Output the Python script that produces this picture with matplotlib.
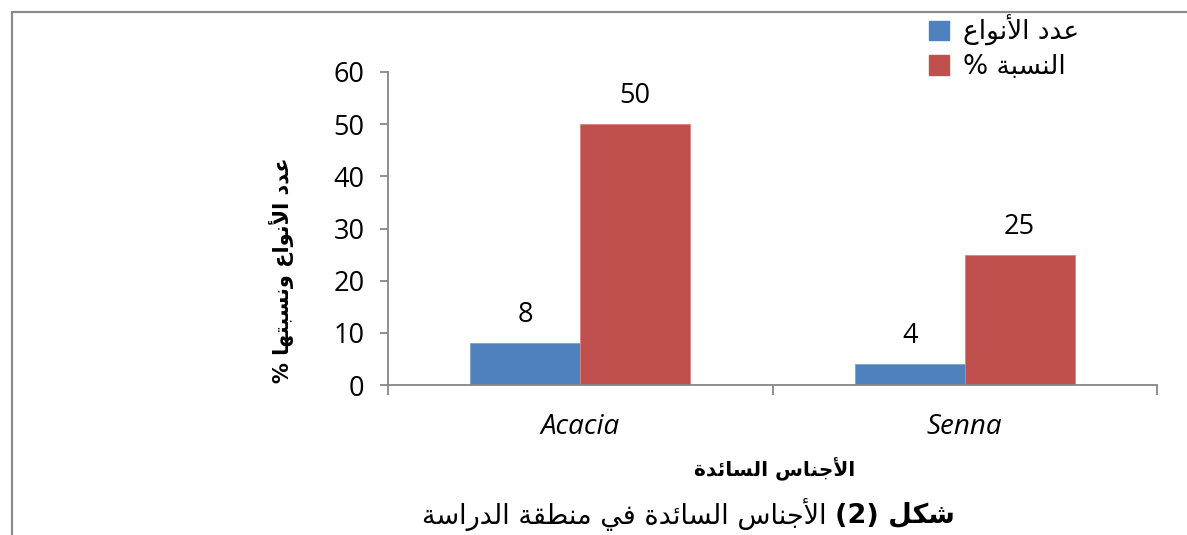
import numpy as np
import matplotlib.pyplot as plt
from matplotlib.lines import Line2D
from matplotlib.patches import Patch

# chart data
genera = ["Acacia", "Senna"]
species_count = [8, 4]
species_pct = [50, 25]

legend_count = "عدد الأنواع"
legend_pct = "النسبة %"
y_title = "عدد الأنواع ونسبتها %"
x_title = "الأجناس السائدة"
caption_bold = "شكل"
caption_num = "(2)"
caption_rest = "الأجناس السائدة في منطقة الدراسة"

# --- minimal Arabic shaping (presentation forms) + visual reordering ---
FORMS = {
    "ا": (0xFE8D, 0xFE8E, None, None),
    "أ": (0xFE83, 0xFE84, None, None),
    "ب": (0xFE8F, 0xFE90, 0xFE91, 0xFE92),
    "ة": (0xFE93, 0xFE94, None, None),
    "ت": (0xFE95, 0xFE96, 0xFE97, 0xFE98),
    "ج": (0xFE9D, 0xFE9E, 0xFE9F, 0xFEA0),
    "د": (0xFEA9, 0xFEAA, None, None),
    "ر": (0xFEAD, 0xFEAE, None, None),
    "س": (0xFEB1, 0xFEB2, 0xFEB3, 0xFEB4),
    "ش": (0xFEB5, 0xFEB6, 0xFEB7, 0xFEB8),
    "ط": (0xFEC1, 0xFEC2, 0xFEC3, 0xFEC4),
    "ع": (0xFEC9, 0xFECA, 0xFECB, 0xFECC),
    "ف": (0xFED1, 0xFED2, 0xFED3, 0xFED4),
    "ق": (0xFED5, 0xFED6, 0xFED7, 0xFED8),
    "ك": (0xFED9, 0xFEDA, 0xFEDB, 0xFEDC),
    "ل": (0xFEDD, 0xFEDE, 0xFEDF, 0xFEE0),
    "م": (0xFEE1, 0xFEE2, 0xFEE3, 0xFEE4),
    "ن": (0xFEE5, 0xFEE6, 0xFEE7, 0xFEE8),
    "ه": (0xFEE9, 0xFEEA, 0xFEEB, 0xFEEC),
    "و": (0xFEED, 0xFEEE, None, None),
    "ي": (0xFEF1, 0xFEF2, 0xFEF3, 0xFEF4),
    "ئ": (0xFE89, 0xFE8A, 0xFE8B, 0xFE8C),
    "لا": (0xFEFB, 0xFEFC, None, None),
    "لأ": (0xFEF7, 0xFEF8, None, None),
}


def ar(text):
    tokens = []
    i = 0
    while i < len(text):
        if text[i] == "ل" and i + 1 < len(text) and text[i + 1] in "اأ":
            tokens.append(text[i:i + 2])
            i += 2
        else:
            tokens.append(text[i])
            i += 1
    out = []
    for k, t in enumerate(tokens):
        if t not in FORMS:
            out.append(t)
            continue
        prev = tokens[k - 1] if k > 0 else None
        nxt = tokens[k + 1] if k + 1 < len(tokens) else None
        join_prev = prev in FORMS and FORMS[prev][2] is not None
        join_next = nxt in FORMS and FORMS[t][2] is not None
        iso, fin, ini, med = FORMS[t]
        if join_prev and join_next:
            out.append(chr(med))
        elif join_prev:
            out.append(chr(fin))
        elif join_next:
            out.append(chr(ini))
        else:
            out.append(chr(iso))
    return "".join(out[::-1])


blue = "#4F81BD"
red = "#C0504D"
axis_grey = "#868686"

fig = plt.figure(figsize=(11.87, 5.35), dpi=100)
ax = fig.add_axes([388 / 1187, 1 - 385 / 535, (1157 - 388) / 1187, (385 - 72) / 535])

x = np.arange(len(genera))
w = 0.2857
b1 = ax.bar(x - w / 2, species_count, w, color=blue, edgecolor="#7FA3D0", linewidth=0.6)
b2 = ax.bar(x + w / 2, species_pct, w, color=red, edgecolor="#D88080", linewidth=0.6)
ax.bar_label(b1, padding=10, fontsize=19.5, family="Open Sans")
ax.bar_label(b2, padding=10, fontsize=19.5, family="Open Sans")

ax.set_xlim(-0.5, len(genera) - 0.5)
ax.set_ylim(0, 60)
ax.set_yticks(np.arange(0, 61, 10))
ax.set_xticks(np.arange(len(genera) + 1) - 0.5)
ax.set_xticklabels([])
ax.set_xticks(x, minor=True)
ax.set_xticklabels(genera, minor=True, fontstyle="italic", fontsize=20, family="Open Sans")
ax.tick_params(axis="x", which="minor", length=0, pad=20)
ax.tick_params(axis="x", which="major", length=7, width=1.3, color=axis_grey)
ax.tick_params(axis="y", length=6, width=1.3, color=axis_grey, pad=11, labelsize=19.5)
for lab in ax.get_yticklabels():
    lab.set_family("Open Sans")

for s in ("top", "right"):
    ax.spines[s].set_visible(False)
for s in ("left", "bottom"):
    ax.spines[s].set_color(axis_grey)
    ax.spines[s].set_linewidth(1.3)

# outer frame of the figure
fig.add_artist(Line2D([12 / 1187, 12 / 1187, 1], [0, 1 - 12 / 535, 1 - 12 / 535],
                      transform=fig.transFigure, color="#8C8C8C", lw=1.6))

# axis titles
fig.text(281 / 1187, 1 - 270 / 535, ar(y_title), rotation=90, ha="center", va="center",
         fontsize=15, fontweight="bold", family="DejaVu Sans")
fig.text(775 / 1187, 1 - 468 / 535, ar(x_title), ha="center", va="center",
         fontsize=14.5, fontweight="bold", family="DejaVu Sans")

# legend
handles = [Patch(color=blue), Patch(color=red)]
fig.legend(handles, [ar(legend_count), ar(legend_pct)], loc="upper left",
           bbox_to_anchor=(929 / 1187, 1 - 15 / 535), frameon=False,
           borderpad=0, borderaxespad=0,
           handlelength=0.75, handleheight=0.75, handletextpad=0.55,
           labelspacing=0.3, prop={"family": "DejaVu Sans", "size": 19})

# caption: bold part on the right, rest to its left
bold = fig.text(955 / 1187, 1 - 515 / 535, caption_num + " " + ar(caption_bold),
                ha="right", va="center", fontsize=19.5, fontweight="bold", family="DejaVu Sans")
fig.canvas.draw()
bb = bold.get_window_extent()
fig.text((bb.x0 - 8) / 1187, 1 - 515 / 535, ar(caption_rest), ha="right", va="center",
         fontsize=19.5, family="DejaVu Sans")

fig.savefig("out.png", dpi=100)
